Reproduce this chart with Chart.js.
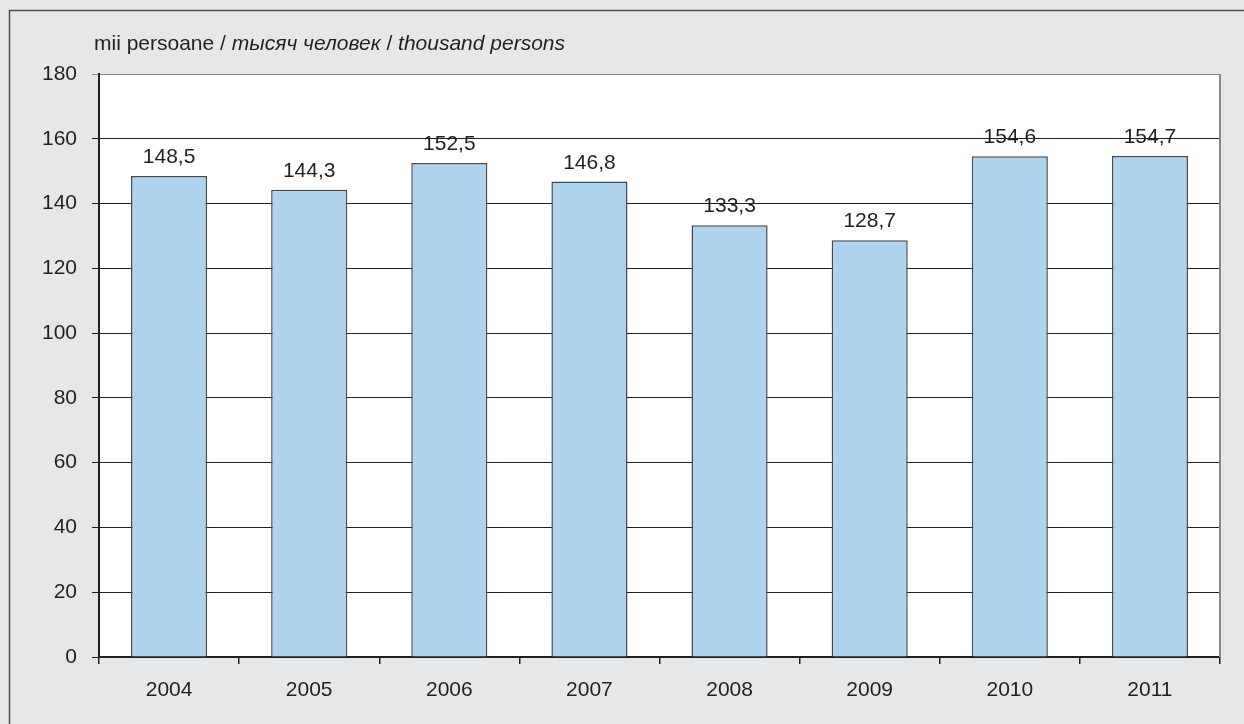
<!DOCTYPE html>
<html>
<head>
<meta charset="utf-8">
<script src="https://cdn.jsdelivr.net/npm/chart.js@4.4.0/dist/chart.umd.min.js"></script>
<style>
  html, body { margin: 0; padding: 0; background: #fff; }
  #wrap { width: 1244px; height: 724px; }
</style>
</head>
<body>
<div id="wrap"><canvas id="chart" width="1244" height="724"></canvas></div>
<script>
// data
const years = ["2004", "2005", "2006", "2007", "2008", "2009", "2010", "2011"];
const persons = [148.5, 144.3, 152.5, 146.8, 133.3, 128.7, 154.6, 154.7];
const yTicks = [0, 20, 40, 60, 80, 100, 120, 140, 160, 180];

const FONT = "'Liberation Sans', Arial, sans-serif";
const TEXT = "#231f20";
const SIZE = 21;

// gray panel with border behind everything
const panelPlugin = {
    id: "panel",
    beforeDraw(chart) {
        const c = chart.ctx;
        const a = chart.chartArea;
        c.save();
        c.fillStyle = "#e6e7e8";
        c.fillRect(0, 0, chart.width, chart.height);
        c.strokeStyle = "#4d4d4f";
        c.lineWidth = 1.5;
        c.strokeRect(9.5, 10.5, chart.width + 20, chart.height + 20);
        c.fillStyle = "#ffffff";
        c.fillRect(a.left, a.top, a.right - a.left, a.bottom - a.top);
        c.restore();
    },
    afterDraw(chart) {
        const c = chart.ctx;
        const a = chart.chartArea;
        c.save();
        // right edge of plot
        c.strokeStyle = "#8a8a8c";
        c.lineWidth = 2;
        c.beginPath();
        c.moveTo(a.right, a.top);
        c.lineTo(a.right, a.bottom);
        c.stroke();

        // unit title, mixed upright / italic
        const parts = [
            ["mii persoane / ", "normal"],
            ["тысяч человек", "italic"],
            [" / ", "normal"],
            ["thousand persons", "italic"]
        ];
        let x = 94;
        c.fillStyle = TEXT;
        c.textBaseline = "alphabetic";
        c.textAlign = "left";
        parts.forEach(p => {
            c.font = p[1] + " " + SIZE + "px " + FONT;
            c.fillText(p[0], x, 50);
            x += c.measureText(p[0]).width;
        });

        // value labels above bars
        const meta = chart.getDatasetMeta(0);
        c.font = SIZE + "px " + FONT;
        c.textAlign = "center";
        meta.data.forEach((bar, i) => {
            c.fillText(persons[i].toFixed(1).replace(".", ","), bar.x, bar.y - 13);
        });
        c.restore();
    }
};

new Chart(document.getElementById("chart"), {
    type: "bar",
    data: {
        labels: years,
        datasets: [{
            data: persons,
            backgroundColor: "#aed3ee",
            borderColor: "#48484a",
            borderWidth: 1.5,
            categoryPercentage: 0.543,
            barPercentage: 1
        }]
    },
    options: {
        responsive: false,
        animation: false,
        layout: { padding: { left: 0, top: 74, right: 24, bottom: 0 } },
        plugins: {
            legend: { display: false },
            tooltip: { enabled: false }
        },
        scales: {
            x: {
                grid: {
                    drawOnChartArea: false,
                    drawTicks: true,
                    tickLength: 7,
                    color: "#231f20",
                    lineWidth: 1.5
                },
                border: { color: "#231f20", width: 2 },
                ticks: {
                    color: TEXT,
                    padding: 14,
                    font: { family: FONT, size: SIZE }
                },
                afterFit(scale) { scale.height = 67; }
            },
            y: {
                min: 0,
                max: 180,
                afterBuildTicks(scale) {
                    scale.ticks = yTicks.map(v => ({ value: v }));
                },
                grid: {
                    color: ctx => (ctx.tick && ctx.tick.value === 180 ? "#8a8a8c" : "#231f20"),
                    lineWidth: 1,
                    tickLength: 7,
                    drawTicks: true
                },
                border: { color: "#231f20", width: 2 },
                ticks: {
                    color: TEXT,
                    padding: 15,
                    font: { family: FONT, size: SIZE }
                },
                afterFit(scale) { scale.width = 99; }
            }
        }
    },
    plugins: [panelPlugin]
});
</script>
</body>
</html>
